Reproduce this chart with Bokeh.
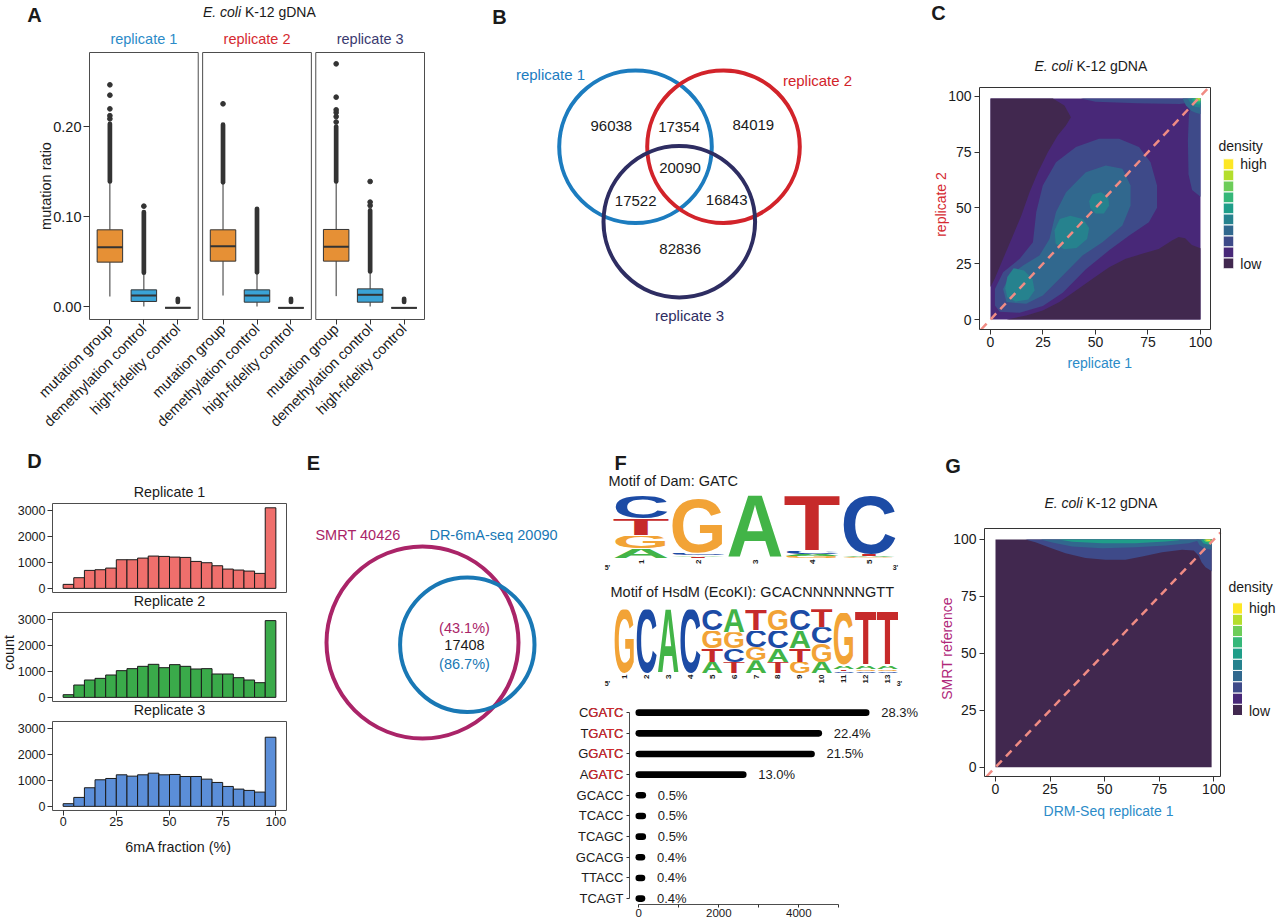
import math
import urllib.parse
from bokeh.plotting import figure
from bokeh.models import Range1d, Label, LinearAxis, FixedTicker, NumeralTickFormatter, ColumnDataSource
from bokeh.layouts import row, column
from bokeh.embed import file_html
from bokeh.resources import INLINE
from bokeh.core.properties import value

# ======================= DATA =======================
# --- A: mutation ratio boxplots ---
a_replicates = ["replicate 1", "replicate 2", "replicate 3"]
a_groups = ["mutation group", "demethylation control", "high-fidelity control"]
a_q1 = [[0.0493, 0.0056, -0.0015], [0.0504, 0.0048, -0.0015], [0.0504, 0.0048, -0.0015]]
a_med = [[0.0659, 0.0122, -0.0015], [0.0670, 0.0122, -0.0015], [0.0663, 0.0130, -0.0015]]
a_q3 = [[0.0852, 0.0185, -0.0015], [0.0852, 0.0185, -0.0015], [0.0856, 0.0196, -0.0015]]
a_wlo = [[0.0111, 0.0000, -0.0015], [0.0122, 0.0000, -0.0015], [0.0115, 0.0000, -0.0015]]
a_whi = [[0.1380, 0.0365, -0.0015], [0.1370, 0.0370, -0.0015], [0.1380, 0.0380, -0.0015]]
a_out_lo = [[0.1390, 0.0375, 0.0050], [0.1380, 0.0380, 0.0050], [0.1390, 0.0390, 0.0050]]
a_out_hi = [[0.2030, 0.1050, 0.0085], [0.2020, 0.1085, 0.0085], [0.2000, 0.1067, 0.0085]]
a_out_pts = [[[0.2085, 0.2120, 0.2196, 0.2348, 0.2463], [0.1115], []],
             [[0.2252], [], []],
             [[0.2050, 0.2110, 0.2155, 0.2185, 0.2326, 0.2696], [0.1122, 0.1160, 0.1389], []]]

# --- B: three-replicate Venn ---
b_sets = ["replicate 1", "replicate 2", "replicate 3"]
b_counts = [96038, 17354, 84019, 20090, 17522, 16843, 82836]

# --- C / G: density contours (level index, polygon x, polygon y) ---
c_fill_x = [0, 100]
c_fill_y = [0, 99]
c_dark1_x = [0, 29.7, 35.2, 38.3, 35.9, 32.0, 27.3, 22.6, 18.6, 14.7, 10.7, 6.0, 2.0, 0]
c_dark1_y = [99, 99, 95.8, 90.6, 86.9, 82.4, 74.9, 66.0, 57.0, 46.6, 37.6, 27.2, 18.2, 14.5]
c_dark2_x = [7.6, 17.0, 24.9, 32.8, 40.7, 48.6, 56.5, 64.4, 72.2, 80.1, 86.4, 89.6, 92.7, 95.9, 100, 100]
c_dark2_y = [0, 1.8, 4.0, 7.8, 13.0, 18.2, 23.4, 27.2, 29.4, 31.6, 35.4, 36.9, 36.4, 33.4, 31.9, 0]
c_l2a_x = [4.4, 13.9, 24.9, 34.4, 45.4, 56.5, 65.9, 75.4, 79.3, 79.3, 76.2, 70.7, 61.2, 51.7, 40.7, 31.2,
           24.9, 21.8, 20.2, 13.9, 6.0, 2.1, 2.1]
c_l2a_y = [3.5, 3.0, 6.0, 12.0, 22.5, 31.0, 37.5, 43.5, 50.0, 60.0, 70.4, 77.2, 80.9, 80.9, 77.2, 70.4,
           60.0, 48.1, 34.6, 27.2, 21.2, 13.7, 6.3]
c_l2b_x = [100, 96, 94.3, 94, 94.5, 96, 100]
c_l2b_y = [55, 58, 65, 80, 92, 96, 97]
c_l2c_x = [43, 50, 70, 90, 94, 94]
c_l2c_y = [99, 97.5, 96.8, 96.5, 97, 99]
c_l3_x = [7.6, 17.0, 24.9, 34.4, 43.8, 53.3, 62.8, 66.7, 66.7, 62.8, 54.9, 45.4, 36.0, 31.2, 28.1, 23.3, 15.5, 9.1, 6.0]
c_l3_y = [7.8, 7.0, 10.7, 19.7, 28.7, 34.6, 42.1, 51.0, 60.0, 67.5, 69.0, 66.0, 57.0, 48.1, 36.1, 28.7, 24.2, 19.7, 13.7]
c_l4a_x = [8, 12, 18, 21, 20, 16, 11, 8, 7]
c_l4a_y = [10, 8, 9, 13, 18, 22, 23, 19, 14]
c_l4b_x = [31, 35, 41, 46, 47, 44, 38, 33, 30.5]
c_l4b_y = [34, 31.5, 32, 36, 41, 45, 46.5, 45, 40]
c_l4c_x = [47.5, 50, 54, 56.5, 56, 52.5, 48.5, 47]
c_l4c_y = [50, 47.5, 47.5, 51, 55, 57, 56, 53]
c_h3_x = [91.5, 93.0, 95.5, 98.0, 100, 100]
c_h3_y = [99, 96.0, 93.5, 92.5, 92.0, 99]
c_h4_x = [94.0, 95.3, 97.3, 100, 100]
c_h4_y = [99, 96.8, 95.3, 94.8, 99]
c_h5_x = [95.5, 96.6, 98.2, 100, 100]
c_h5_y = [99, 97.3, 96.4, 96.2, 99]
c_h6_x = [96.5, 97.4, 98.7, 100, 100]
c_h6_y = [99, 97.9, 97.3, 97.2, 99]
c_h7_x = [97.2, 98.0, 99.0, 100, 100]
c_h7_y = [99, 98.3, 97.9, 97.9, 99]
c_h8_x = [97.8, 98.5, 99.4, 100, 100]
c_h8_y = [99, 98.6, 98.4, 98.5, 99]
c_h9_x = [98.3, 99.0, 99.6, 99.6]
c_h9_y = [99, 98.8, 98.8, 99]

g_fill_x = [0, 99]
g_fill_y = [0, 100]
g_l2_x = [13.7, 18.3, 24.4, 32.1, 41.2, 50.4, 59.5, 67.2, 76.3, 85.5, 90.8, 93.1, 94.4, 96.2, 98.6, 99, 99]
g_l2_y = [100, 98.8, 96.6, 94.0, 91.9, 91.1, 91.1, 92.5, 94.4, 95.5, 95.2, 92.9, 90.0, 87.8, 86.4, 86.0, 100]
g_l3_x = [20.6, 26.0, 35.1, 48.9, 64.1, 77.9, 88.5, 93.1, 93.1]
g_l3_y = [100, 98.7, 96.9, 96.2, 96.6, 97.4, 98.4, 99.6, 100]
g_l5_x = [29, 35.1, 48.9, 64.1, 77.9, 84, 84]
g_l5_y = [100, 99.0, 98.4, 98.4, 99.1, 99.7, 100]
g_h3_x = [92, 93.5, 96, 99, 99]
g_h3_y = [100, 97.5, 96, 95.5, 100]
g_h5_x = [94, 95.2, 97.2, 99, 99]
g_h5_y = [100, 98.4, 97.8, 97.8, 100]
g_h7_x = [95.2, 96.2, 97.8, 99, 99]
g_h7_y = [100, 99.0, 98.7, 98.9, 100]
g_h9_x = [96, 96.8, 98.2, 98.6]
g_h9_y = [100, 99.4, 99.3, 100]

# --- D: 6mA fraction histograms ---
d_titles = ["Replicate 1", "Replicate 2", "Replicate 3"]
d_edges = [0, 5, 10, 15, 20, 25, 30, 35, 40, 45, 50, 55, 60, 65, 70, 75, 80, 85, 90, 95, 100]
d_rep1 = [155, 413, 697, 723, 787, 1110, 1110, 1174, 1252, 1239, 1213, 1200, 1045, 994, 877, 748, 710, 671, 581, 3123]
d_rep2 = [103, 479, 673, 737, 867, 1035, 1113, 1203, 1281, 1151, 1268, 1203, 1100, 1113, 906, 906, 763, 673, 569, 2975]
d_rep3 = [103, 347, 721, 1030, 1081, 1223, 1171, 1223, 1287, 1223, 1236, 1158, 1158, 1055, 927, 772, 669, 618, 553, 2680]
d_yticks = [0, 1000, 2000, 3000]

# --- E: SMRT vs DR-6mA-seq Venn ---
e_sets = ["SMRT", "DR-6mA-seq"]
e_totals = [40426, 20090]
e_overlap = 17408
e_pcts = ["(43.1%)", "(86.7%)"]

# --- F: motif logos (letters bottom->top, relative heights) and motif counts ---
dam_letters = ["AGTC", "TACG", "A", "GACT", "GATC"]
dam_heights = [[0.15, 0.20, 0.26, 0.35], [0.03, 0.02, 0.04, 0.83], [0.97],
               [0.04, 0.03, 0.05, 0.85], [0.02, 0.02, 0.03, 0.89]]
hsdm_letters = ["G", "C", "A", "C", "ATGC", "TCGA", "AGCT", "TACG", "GTAC", "AGCT", "CTAG", "CGAT", "CGAT"]
hsdm_heights = [[0.97], [0.97], [0.97], [0.97],
                [0.175, 0.20, 0.275, 0.325], [0.175, 0.20, 0.25, 0.35], [0.20, 0.20, 0.25, 0.325],
                [0.175, 0.20, 0.275, 0.325], [0.175, 0.20, 0.275, 0.325], [0.175, 0.275, 0.25, 0.275],
                [0.03, 0.03, 0.06, 0.80], [0.03, 0.03, 0.06, 0.81], [0.03, 0.03, 0.06, 0.81]]
f_motifs = ["CGATC", "TGATC", "GGATC", "AGATC", "GCACC", "TCACC", "TCAGC", "GCACG", "TTACC", "TCAGT"]
f_counts = [5685, 4500, 4319, 2612, 100, 100, 100, 80, 80, 80]
f_pcts = ["28.3%", "22.4%", "21.5%", "13.0%", "0.5%", "0.5%", "0.5%", "0.4%", "0.4%", "0.4%"]

# ======================= STYLE =======================
FONT = "Liberation Sans"
INK = "#1a1a1a"
BLUE = "#2B8BC8"
RED = "#D52A31"
NAVY = "#3A3A70"
MAGENTA = "#AA2468"
PAL = ["#41284F", "#482878", "#3E4A89", "#31688E", "#26828E", "#1F9E89", "#35B779", "#6DCD59", "#B4DE2C", "#FDE725"]
LOGO_COLORS = {"A": "#42B447", "C": "#1C4BA5", "G": "#F2A336", "T": "#C62A2A"}


class Panel:
    """A figure filling a page-pixel box; 'area' is the plotting area (pixels) where ranges xr/yr apply."""

    def __init__(self, box, area=None, xr=None, yr=None):
        x0, y0, x1, y1 = box
        self.area = area or box
        self.xr = xr or (x0, x1)
        self.yr = yr or (y1, y0)
        p = figure(width=x1 - x0, height=y1 - y0,
                   x_range=Range1d(self.dx(x0), self.dx(x1)),
                   y_range=Range1d(self.dy(y1), self.dy(y0)),
                   min_border=0, min_border_left=0, min_border_right=0,
                   min_border_top=0, min_border_bottom=0, frame_align=False,
                   x_axis_location=None, y_axis_location=None, title=None,
                   tools="", toolbar_location=None, output_backend="svg")
        p.outline_line_color = None
        p.xgrid.grid_line_color = None
        p.ygrid.grid_line_color = None
        p.background_fill_color = "white"
        p.border_fill_color = "white"
        self.p = p

    def dx(self, px):
        ax0, ay0, ax1, ay1 = self.area
        return self.xr[0] + (px - ax0) / (ax1 - ax0) * (self.xr[1] - self.xr[0])

    def dy(self, py):
        ax0, ay0, ax1, ay1 = self.area
        return self.yr[0] + (ay1 - py) / (ay1 - ay0) * (self.yr[1] - self.yr[0])

    def text(self, px, py, s, size=14, color=INK, align="center", style="normal", angle=0.0, data=False):
        x, y = (px, py) if data else (self.dx(px), self.dy(py))
        self.p.add_layout(Label(x=x, y=y, text=s, text_font=FONT, text_font_size=f"{size}px",
                                text_color=color, text_align=align, text_baseline="middle",
                                text_font_style=style, angle=angle))

    def add_axis(self, side, ticks, size, tick_out=5, standoff=3, loc=None):
        ax = LinearAxis(ticker=FixedTicker(ticks=ticks))
        if loc is None:
            loc = self.yr[0] if side == "below" else self.xr[0]
        ax.fixed_location = loc
        ax.axis_line_color = None
        ax.major_tick_in = 0
        ax.major_tick_out = int(tick_out)
        ax.minor_tick_in = 0
        ax.minor_tick_out = 0
        ax.major_tick_line_color = "#333333"
        ax.major_label_text_font = FONT
        ax.major_label_text_font_size = f"{size}px"
        ax.major_label_text_color = INK
        ax.major_label_standoff = int(standoff)
        self.p.add_layout(ax, side)
        return ax

    def outline(self, color, bottom=None, top=None):
        self.p.quad(left=self.xr[0], right=self.xr[1],
                    bottom=self.yr[0] if bottom is None else bottom,
                    top=self.yr[1] if top is None else top,
                    fill_color=None, line_color=color, line_width=1)


def letter_url(ch):
    svg = ('<svg xmlns="http://www.w3.org/2000/svg" width="100" height="71" '
           'viewBox="0 -69.5 100 71" preserveAspectRatio="none">'
           '<text x="0" y="0" font-family="Liberation Sans, Arial, sans-serif" font-weight="bold" '
           'font-size="100" textLength="100" lengthAdjust="spacingAndGlyphs" fill="%s">%s</text></svg>'
           % (LOGO_COLORS[ch], ch))
    return "data:image/svg+xml;charset=utf-8," + urllib.parse.quote(svg)


def draw_logo(P, letters, heights):
    d = dict(url=[], x=[], y=[], w=[], h=[])
    for i, (ls, hs) in enumerate(zip(letters, heights)):
        base = 0.0
        for ch, h in zip(ls, hs):
            d["url"].append(letter_url(ch))
            d["x"].append(i + 0.5)
            d["y"].append(base)
            d["w"].append(1.0)
            d["h"].append(h)
            base += h
    P.p.image_url(url="url", x="x", y="y", w="w", h="h", anchor="bottom_left", source=ColumnDataSource(d))
    ax = P.add_axis("below", list(range(1, len(letters) + 1)), 8, 0, 1)
    ax.major_label_orientation = math.pi / 2
    ax.major_label_text_font_style = "bold"


def title_ecoli(P, split_px, py):
    P.text(split_px, py, "E. coli", size=14, style="italic", align="right")
    P.text(split_px + 4, py, "K-12 gDNA", size=14, align="left")


def density_panel(P, fill_x, fill_y, base_level, regions):
    p = P.p
    p.quad(left=fill_x[0], right=fill_x[1], bottom=fill_y[0], top=fill_y[1],
           fill_color=PAL[base_level], line_color=None)
    for lvl, xs, ys in regions:
        p.patch(xs, ys, fill_color=PAL[lvl], line_color=None)
    lo = max(P.xr[0], P.yr[0])
    hi = min(P.xr[1], P.yr[1])
    p.line([lo, hi], [lo, hi], line_color="#F08C84", line_width=2.5, line_dash="8 6")
    P.outline("#333333")
    P.add_axis("below", [0, 25, 50, 75, 100], 14, 5, 2)
    P.add_axis("left", [0, 25, 50, 75, 100], 14, 5, 3)


def density_legend(P, bx0, bx1, btop, bbot, tx, ty):
    n = len(PAL)
    step = (bbot - btop) / n
    P.p.quad(left=bx0, right=bx1, top=[bbot - (i + 1) * step for i in range(n)],
             bottom=[bbot - i * step for i in range(n)], fill_color=PAL, line_color="white", line_width=1)
    P.text(tx, ty, "density", size=14, align="left")
    P.text(bx1 + 6.5, btop + 5, "high", size=14, align="left")
    P.text(bx1 + 6.5, bbot - 5, "low", size=14, align="left")


# ======================= PANEL A =======================
A = Panel((0, 0, 432, 448), (89, 8, 424, 319), (40, 1026), (-0.01444, 0.33111))
pa = A.p
FW, FG, BW = 320, 13, 75
rep_colors = [BLUE, RED, NAVY]
grp_colors = ["#E69035", "#3AA3D6", "#3AA3D6"]
bx = dict(x=[], xl=[], xr=[], q1=[], q3=[], md=[], wl=[], wh=[], ol=[], oh=[], c=[])
ptx, pty = [], []
ticks, overrides = [], {}
for k in range(3):
    s = 40 + k * (FW + FG)
    pa.quad(left=s, right=s + FW, bottom=-0.01444, top=0.28222, fill_color=None,
            line_color="#4d4d4d", line_width=1)
    A.text(s + FW / 2, A.dy(38), a_replicates[k], size=14.5, color=rep_colors[k], data=True)
    for j in range(3):
        c = s + 60 + 100 * j
        ticks.append(c)
        overrides[c] = a_groups[j]
        bx["x"].append(c); bx["xl"].append(c - BW / 2); bx["xr"].append(c + BW / 2)
        bx["q1"].append(a_q1[k][j]); bx["q3"].append(a_q3[k][j]); bx["md"].append(a_med[k][j])
        bx["wl"].append(a_wlo[k][j]); bx["wh"].append(a_whi[k][j])
        bx["ol"].append(a_out_lo[k][j]); bx["oh"].append(a_out_hi[k][j])
        bx["c"].append(grp_colors[j])
        for v in a_out_pts[k][j]:
            ptx.append(c); pty.append(v)
bsrc = ColumnDataSource(bx)
pa.segment(x0="x", y0="wl", x1="x", y1="q1", source=bsrc, line_color="#333333", line_width=1)
pa.segment(x0="x", y0="q3", x1="x", y1="wh", source=bsrc, line_color="#333333", line_width=1)
pa.segment(x0="x", y0="ol", x1="x", y1="oh", source=bsrc, line_color="#333333", line_width=4.7, line_cap="round")
pa.scatter(ptx, pty, size=4.7, color="#333333")
pa.vbar(x="x", width=BW, bottom="q1", top="q3", fill_color="c", line_color="#333333", line_width=1, source=bsrc)
pa.segment(x0="xl", y0="md", x1="xr", y1="md", source=bsrc, line_color="#333333", line_width=2)
ya = A.add_axis("left", [0, 0.1, 0.2], 14.5, 6, 2)
ya.formatter = NumeralTickFormatter(format="0.00")
xa = A.add_axis("below", ticks, 14.5, 5, 2)
xa.major_label_overrides = overrides
xa.major_label_orientation = math.pi / 4
A.text(45, 185.5, "mutation ratio", size=14.5, angle=math.pi / 2)
A.text(34, 14, "A", size=20, style="bold")
title_ecoli(A, 240.5, 11)

# ======================= PANEL B =======================
B = Panel((432, 0, 852, 448))
b_cx = [635, 723, 678.8]
b_cy = [146.2, 146.2, 221.2]
b_r = [76.3, 76.3, 75.8]
b_colors = ["#1C7CBF", "#D2232A", "#2E2D62"]
B.p.circle(x=b_cx, y=b_cy, radius=b_r, fill_color=None, line_color=b_colors, line_width=4)
b_label_pos = [(550, 74), (817, 80), (689, 315)]
for (x, y), s, col in zip(b_label_pos, b_sets, b_colors):
    B.text(x, y, s, size=15, color=col)
b_count_pos = [(610.8, 125), (678.5, 126), (752.8, 124), (679.5, 167.7), (635.2, 200), (726.2, 199.3), (679.7, 248.3)]
for (x, y), n in zip(b_count_pos, b_counts):
    B.text(x, y, str(n), size=15)
B.text(499, 16, "B", size=20, style="bold")

# ======================= PANEL C =======================
C = Panel((852, 0, 1215, 448), (979, 87, 1210, 329), (-5.238, 104.762), (-4.478, 103.90))
c_regions = [(0, c_dark1_x, c_dark1_y), (0, c_dark2_x, c_dark2_y),
             (2, c_l2a_x, c_l2a_y), (2, c_l2b_x, c_l2b_y), (2, c_l2c_x, c_l2c_y),
             (3, c_l3_x, c_l3_y), (4, c_l4a_x, c_l4a_y), (4, c_l4b_x, c_l4b_y), (4, c_l4c_x, c_l4c_y),
             (3, c_h3_x, c_h3_y), (4, c_h4_x, c_h4_y), (5, c_h5_x, c_h5_y), (6, c_h6_x, c_h6_y),
             (7, c_h7_x, c_h7_y), (8, c_h8_x, c_h8_y), (9, c_h9_x, c_h9_y)]
density_panel(C, c_fill_x, c_fill_y, 1, c_regions)
C.text(938, 12, "C", size=20, style="bold")
title_ecoli(C, 1072, 65)
C.text(1099.3, 362.3, "replicate 1", size=14, color=BLUE)
C.text(940, 204, "replicate 2", size=14, color=RED, angle=math.pi / 2)
CL = Panel((1215, 0, 1276, 448))
density_legend(CL, 1222.7, 1233.3, 158.3, 268.3, 1218, 145.7)

# ======================= PANEL D (three stacked facets in one figure) =======================
D = Panel((0, 448, 300, 920), (52, 503, 286, 592), (-5, 105), (-160, 3290))
DSTEP = 4225            # vertical distance between facets, in count units (= 109 px)
d_colors = ["#EF6F6C", "#3AAA4A", "#5B8ED8"]
d_counts = [d_rep1, d_rep2, d_rep3]
d_ticks, d_over = [], {}
for k, (counts, color, title) in enumerate(zip(d_counts, d_colors, d_titles)):
    off = -k * DSTEP
    D.p.quad(left=d_edges[:-1], right=d_edges[1:], bottom=off, top=[c + off for c in counts],
             fill_color=color, line_color="#1a1a1a", line_width=1)
    D.outline("#4d4d4d", bottom=D.yr[0] + off, top=D.yr[1] + off)
    for v in d_yticks:
        d_ticks.append(v + off)
        d_over[v + off] = str(v)
    D.text(169, 503 + 109 * k - 11.3, title, size=14.3)
dy_ax = D.add_axis("left", d_ticks, 12.5, 5, 2)
dy_ax.major_label_overrides = d_over
D.add_axis("below", [0, 25, 50, 75, 100], 12.5, 5, 2, loc=D.yr[0] - 2 * DSTEP)
D.text(34, 460, "D", size=20, style="bold")
D.text(8, 652, "count", size=14.3, angle=math.pi / 2)
D.text(178, 846, "6mA fraction (%)", size=14.3)

# ======================= PANEL E =======================
E = Panel((300, 448, 570, 920))
e_colors = [MAGENTA, "#1978B5"]
E.p.circle(x=[422, 466.8], y=[642, 644.2], radius=[96, 67.2], fill_color=None,
           line_color=e_colors, line_width=4)
E.text(357.5, 534, f"{e_sets[0]} {e_totals[0]}", size=14.5, color=e_colors[0])
E.text(493, 534, f"{e_sets[1]} {e_totals[1]}", size=14.5, color=e_colors[1])
E.text(464, 627, e_pcts[0], size=14.5, color=e_colors[0])
E.text(464, 644, str(e_overlap), size=14.5)
E.text(464, 663, e_pcts[1], size=14.5, color=e_colors[1])
E.text(313, 462, "E", size=20, style="bold")

# ======================= PANEL F =======================
FD = Panel((570, 448, 920, 580), (612, 493, 897, 558), (0.5, 5.5), (0, 1))
draw_logo(FD, dam_letters, dam_heights)
FD.text(620, 462, "F", size=20, style="bold")
FD.text(608, 480, "Motif of Dam: GATC", size=14.5, align="left")
FD.text(607, 567, "5'", size=7, style="bold")
FD.text(895, 567, "3'", size=7, style="bold")

FH = Panel((570, 580, 920, 698), (613, 607, 898, 673), (0.5, 13.5), (0, 1))
draw_logo(FH, hsdm_letters, hsdm_heights)
FH.text(610, 591, "Motif of HsdM (EcoKI): GCACNNNNNNGTT", size=14.5, align="left")
FH.text(607, 683, "5'", size=7, style="bold")
FH.text(899, 683, "3'", size=7, style="bold")

FL = Panel((570, 698, 920, 920), (629, 698, 920, 904), (-232.5, 7042.5), (-0.285, 9.686))
rows = [len(f_motifs) - 1 - i for i in range(len(f_motifs))]
lsrc = ColumnDataSource(dict(y=rows, v=f_counts, pct=f_pcts))
FL.p.segment(x0=0, y0="y", x1="v", y1="y", line_width=6.6, line_cap="round", line_color="black", source=lsrc)
FL.p.text(x="v", y="y", text="pct", x_offset=15, text_align="left", text_baseline="middle",
          text_font=value(FONT), text_font_size="13px", text_color=INK, source=lsrc)
fx = FL.add_axis("below", [0, 2000, 4000], 11.5, 3, 1)
fx.ticker = FixedTicker(ticks=[0, 2000, 4000], minor_ticks=[1000, 3000, 5000])
fx.minor_tick_out = 3
fx.minor_tick_line_color = "#333333"
fx.bounds = (0, 5000)
fx.axis_line_color = "#4d4d4d"
fy = FL.add_axis("left", rows, 13, 3, 3)
fy.major_label_overrides = {y: m for y, m in zip(rows, f_motifs)}
fy.bounds = (0, len(f_motifs) - 1)
fy.axis_line_color = "#4d4d4d"
for m, y in zip(f_motifs, rows):
    if m.endswith("GATC"):
        FL.text(FL.dx(623), y, "GATC", size=13, color=RED, align="right", data=True)

# ======================= PANEL G =======================
G = Panel((920, 448, 1225, 920), (984, 528, 1220, 776), (-5.039, 103.07), (-4.084, 104.83))
g_regions = [(2, g_l2_x, g_l2_y), (3, g_l3_x, g_l3_y), (5, g_l5_x, g_l5_y),
             (3, g_h3_x, g_h3_y), (5, g_h5_x, g_h5_y), (7, g_h7_x, g_h7_y), (9, g_h9_x, g_h9_y)]
density_panel(G, g_fill_x, g_fill_y, 0, g_regions)
G.text(952.5, 465, "G", size=20, style="bold")
title_ecoli(G, 1082, 502.7)
G.text(1108, 810, "DRM-Seq replicate 1", size=14, color=BLUE)
G.text(946.7, 648, "SMRT reference", size=14, color="#B0287A", angle=math.pi / 2)
GL = Panel((1225, 448, 1276, 920))
density_legend(GL, 1232, 1242, 602.3, 715, 1228, 586.7)

# ======================= LAYOUT =======================
top = row(A.p, B.p, C.p, CL.p)
f_col = column(FD.p, FH.p, FL.p)
bottom = row(D.p, E.p, f_col, G.p, GL.p)
root = column(top, bottom)

open("out.html", "w").write(file_html(root, INLINE, title="E. coli K-12 6mA"))
